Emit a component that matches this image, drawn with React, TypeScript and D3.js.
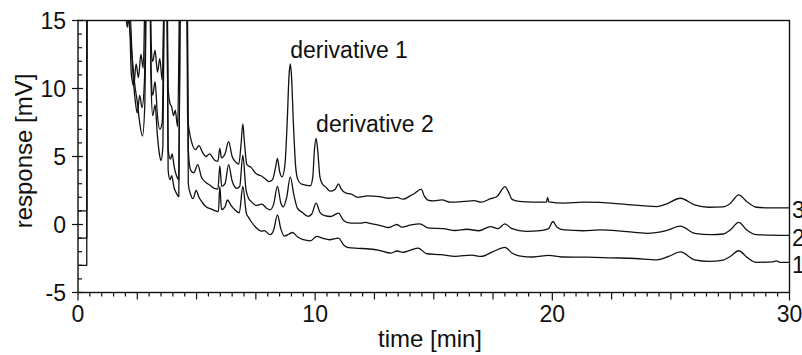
import React from "react";
import * as d3 from "d3";

// ---- data (time [min], response [mV]) ----
const xTickLabels = [0, 10, 20, 30];
const yTickLabels = [15, 10, 5, 0, -5];
const traceLabels = ["1", "2", "3"];
const annotationTexts = ["derivative 1", "derivative 2"];
const annotationTimes = [8.95, 10.04];
const annotationValues = [11.8, 6.33];

const trace3: [number, number][] = [
  [0, 1.0], [0.37, 1.0], [0.38, 30], [1.9, 30], [2.0, 16], [2.08, 14.5], [2.15, 16], [2.25, 11.0],
  [2.35, 10.2], [2.45, 11.8], [2.55, 10.8], [2.65, 12.5], [2.75, 11.5], [2.85, 20], [3.0, 25],
  [3.08, 13.5], [3.15, 12.0], [3.25, 12.8], [3.35, 11.2], [3.45, 12.2], [3.55, 10.6], [3.65, 20],
  [3.72, 25], [3.8, 10.0], [3.88, 8.9], [3.95, 8.65], [4.03, 8.0], [4.1, 8.4], [4.2, 7.2], [4.3, 20],
  [4.5, 30], [4.58, 20], [4.62, 8.0], [4.7, 6.8], [4.8, 6.0], [4.95, 5.5], [5.1, 5.8], [5.25, 5.3],
  [5.4, 5.0], [5.55, 5.2], [5.75, 4.75], [5.9, 4.65], [5.98, 5.6], [6.05, 4.9], [6.2, 5.2], [6.35, 6.1],
  [6.5, 5.0], [6.65, 4.6], [6.78, 4.45], [6.88, 6.0], [6.95, 7.4], [7.02, 6.0], [7.12, 4.4], [7.3, 4.2],
  [7.5, 3.75], [7.6, 3.65], [7.75, 3.55], [7.9, 3.35], [8.05, 3.15], [8.2, 3.3], [8.33, 4.2], [8.41, 4.86],
  [8.5, 3.9], [8.6, 3.5], [8.72, 4.3], [8.82, 7.5], [8.9, 11.0], [8.95, 11.8], [9.0, 11.0], [9.08, 7.5],
  [9.18, 4.2], [9.27, 3.3], [9.4, 3.0], [9.6, 2.9], [9.8, 2.85], [9.9, 3.5], [9.97, 5.5], [10.04, 6.33],
  [10.11, 5.4], [10.2, 3.5], [10.3, 3.0], [10.45, 2.75], [10.63, 2.45], [10.85, 2.6], [10.98, 2.98],
  [11.1, 2.6], [11.3, 2.3], [11.5, 2.25], [11.8, 2.0], [12.2, 2.1], [12.7, 2.05], [13.1, 1.93],
  [13.45, 2.0], [13.7, 1.86], [14.0, 2.1], [14.2, 2.3], [14.47, 2.6], [14.6, 2.1], [14.75, 1.8],
  [15.0, 1.74], [15.35, 1.81], [15.7, 1.64], [16.3, 1.7], [16.7, 1.76], [17.0, 1.64], [17.4, 1.9],
  [17.6, 2.0], [17.7, 2.12], [17.85, 2.5], [18.0, 2.78], [18.15, 2.4], [18.3, 1.85], [18.6, 1.7],
  [19.2, 1.64], [19.75, 1.64], [19.8, 2.0], [19.85, 1.66], [20.5, 1.57], [21.3, 1.64], [22.0, 1.62],
  [23.0, 1.5], [24.4, 1.32], [24.8, 1.5], [25.4, 1.93], [26.0, 1.44], [26.6, 1.27], [27.2, 1.3],
  [27.5, 1.55], [27.86, 2.18], [28.2, 1.68], [28.6, 1.27], [29.2, 1.22], [30, 1.22],
];

const trace2: [number, number][] = [
  [0, -1.0], [0.37, -1.0], [0.38, 30], [1.9, 30], [2.05, 16], [2.12, 14.8], [2.18, 16], [2.3, 11.5],
  [2.42, 9.0], [2.5, 8.2], [2.6, 9.5], [2.7, 8.6], [2.8, 10.5], [2.88, 20], [3.0, 25], [3.08, 11.5],
  [3.15, 9.5], [3.25, 10.5], [3.35, 8.0], [3.45, 7.0], [3.55, 7.5], [3.65, 20], [3.72, 25], [3.8, 5.5],
  [3.9, 4.8], [3.97, 5.2], [4.05, 4.3], [4.15, 3.6], [4.25, 3.3], [4.32, 20], [4.5, 30], [4.6, 20],
  [4.65, 5.5], [4.75, 4.0], [4.88, 3.8], [5.05, 4.4], [5.2, 3.5], [5.35, 3.15], [5.55, 2.9], [5.75, 2.65],
  [5.9, 2.6], [5.98, 4.3], [6.06, 2.8], [6.2, 3.0], [6.35, 4.4], [6.5, 3.2], [6.7, 2.65], [6.82, 2.8],
  [6.95, 5.1], [7.08, 2.6], [7.2, 1.9], [7.3, 1.7], [7.5, 1.4], [7.75, 1.5], [7.95, 1.2], [8.1, 1.08],
  [8.25, 1.5], [8.41, 2.8], [8.55, 1.6], [8.65, 1.3], [8.8, 2.0], [8.95, 3.5], [9.1, 2.2], [9.25, 1.2],
  [9.45, 0.9], [9.7, 0.6], [9.85, 0.75], [10.04, 1.57], [10.2, 0.9], [10.4, 0.65], [10.65, 0.59],
  [10.98, 0.83], [11.2, 0.3], [11.5, 0.1], [11.9, 0.1], [12.1, 0.15], [12.4, 0.05], [12.8, -0.1],
  [13.1, -0.22], [13.45, 0.0], [13.65, -0.2], [14.0, -0.05], [14.4, 0.05], [14.8, -0.27], [15.4, -0.3],
  [15.9, -0.44], [16.4, -0.35], [16.9, -0.46], [17.4, -0.15], [17.7, -0.3], [18.0, 0.05], [18.3, -0.31],
  [18.9, -0.5], [19.5, -0.45], [19.85, -0.3], [20.02, 0.22], [20.2, -0.2], [20.5, -0.4], [21.3, -0.46],
  [22.0, -0.4], [23.0, -0.5], [24.0, -0.65], [24.8, -0.45], [25.4, -0.12], [26.0, -0.65], [26.7, -0.75],
  [27.2, -0.7], [27.5, -0.4], [27.86, 0.15], [28.2, -0.4], [28.6, -0.75], [30, -0.8],
];

const trace1: [number, number][] = [
  [0, -3.0], [0.37, -3.0], [0.38, 30], [1.9, 30], [2.1, 16], [2.2, 14.0], [2.3, 12], [2.4, 10.2],
  [2.5, 9.0], [2.6, 7.5], [2.72, 6.5], [2.82, 9.0], [2.9, 20], [3.0, 25], [3.08, 10.5], [3.15, 8.0],
  [3.25, 8.8], [3.35, 6.5], [3.45, 5.0], [3.5, 4.7], [3.58, 5.8], [3.65, 20], [3.72, 25], [3.8, 4.0],
  [3.88, 3.3], [3.95, 3.6], [4.05, 2.7], [4.15, 2.3], [4.25, 2.05], [4.32, 20], [4.5, 30], [4.6, 20],
  [4.65, 3.0], [4.75, 2.2], [4.85, 1.9], [4.98, 2.5], [5.1, 2.0], [5.25, 1.6], [5.4, 1.3], [5.6, 1.15],
  [5.8, 1.0], [5.92, 0.95], [5.98, 2.8], [6.05, 1.1], [6.2, 1.3], [6.3, 1.8], [6.45, 1.4], [6.6, 1.1],
  [6.8, 0.85], [6.95, 2.8], [7.1, 0.8], [7.2, 0.5], [7.3, 0.22], [7.55, -0.3], [7.75, -0.5], [7.85, -0.45],
  [8.1, -0.75], [8.25, -0.4], [8.41, 0.71], [8.55, -0.3], [8.7, -0.85], [8.9, -0.7], [9.05, -0.59],
  [9.25, -0.9], [9.5, -1.12], [9.8, -1.2], [10.07, -0.88], [10.3, -1.0], [10.6, -1.12], [10.98, -1.0],
  [11.2, -1.5], [11.4, -1.7], [11.8, -1.75], [12.3, -1.8], [12.7, -1.9], [13.2, -2.1], [13.45, -1.95],
  [13.7, -2.05], [14.0, -1.9], [14.35, -1.73], [14.7, -2.15], [15.3, -2.22], [15.9, -2.34], [16.6, -2.25],
  [17.0, -2.35], [17.5, -2.0], [18.0, -1.68], [18.3, -2.1], [18.6, -2.3], [19.2, -2.39], [19.85, -2.27],
  [20.4, -2.39], [21.5, -2.4], [22.5, -2.45], [23.5, -2.5], [24.4, -2.6], [24.9, -2.35], [25.4, -2.02],
  [26.0, -2.6], [26.6, -2.71], [27.2, -2.62], [27.5, -2.35], [27.86, -1.93], [28.2, -2.4], [28.6, -2.78],
  [29.3, -2.75], [29.45, -2.68], [29.6, -2.78], [30, -2.78],
];

const traces = [trace1, trace2, trace3];

export default function App() {
  const W = 802, H = 355;
  const left = 78, right = 789.5, top = 20.5, bottom = 292.5;
  const x = d3.scaleLinear().domain([0, 30]).range([left, right]);
  const y = d3.scaleLinear().domain([-5, 15]).range([bottom, top]);
  const line = d3.line<[number, number]>().x(d => x(d[0])).y(d => y(d[1])).curve(d3.curveMonotoneX);
  const font = "'Liberation Sans', Arial, sans-serif";
  const ink = "#111";

  const xMinor = d3.range(0, 30.001, 0.5);
  const yMinor = d3.range(-5, 15.001, 1);

  return (
    <svg width={W} height={H} style={{ position: "absolute", left: 0, top: 0, background: "#fff" }}>
      <defs>
        <clipPath id="plot">
          <rect x={left} y={top} width={right - left} height={bottom - top} />
        </clipPath>
      </defs>
      <rect x={0} y={0} width={W} height={H} fill="#fff" />
      <g clipPath="url(#plot)">
        {traces.map((tr, i) => (
          <path key={i} d={line(tr) || ""} fill="none" stroke={ink} strokeWidth={1.3} strokeLinejoin="round" />
        ))}
      </g>
      {/* frame */}
      <rect x={left} y={top} width={right - left} height={bottom - top} fill="none" stroke={ink} strokeWidth={1.4} />
      {/* x ticks */}
      {xMinor.map(t => {
        const major = Math.abs(t % 10) < 1e-6;
        const med = Math.abs(t % 2.5) < 1e-6;
        const len = major ? 8 : med ? 7 : 4;
        return <line key={"xt" + t} x1={x(t)} x2={x(t)} y1={bottom} y2={bottom + len} stroke={ink} strokeWidth={1.2} />;
      })}
      {/* y ticks */}
      {yMinor.map(v => {
        const major = Math.abs(v % 5) < 1e-6;
        return major ? (
          <line key={"yt" + v} x1={left - 6} x2={left + 5} y1={y(v)} y2={y(v)} stroke={ink} strokeWidth={1.2} />
        ) : (
          <line key={"yt" + v} x1={left} x2={left + 4} y1={y(v)} y2={y(v)} stroke={ink} strokeWidth={1.2} />
        );
      })}
      {xTickLabels.map(t => (
        <text key={"xl" + t} x={x(t)} y={322} textAnchor="middle" fontFamily={font} fontSize={23} fill={ink}>{t}</text>
      ))}
      {yTickLabels.map(v => (
        <text key={"yl" + v} x={66} y={y(v)} dy="0.36em" textAnchor="end" fontFamily={font} fontSize={23} fill={ink}>{v}</text>
      ))}
      <text x={430} y={347} textAnchor="middle" fontFamily={font} fontSize={24} fill={ink}>time [min]</text>
      <text transform="translate(32,151) rotate(-90)" textAnchor="middle" fontFamily={font} fontSize={24} fill={ink}>response [mV]</text>
      {annotationTexts.map((s, i) => (
        <text key={s} x={x(annotationTimes[i])} y={y(annotationValues[i]) - 6} fontFamily={font} fontSize={23} fill={ink}>{s}</text>
      ))}
      {traces.map((tr, i) => (
        <text key={"tl" + i} x={792} y={y(tr[tr.length - 1][1]) + 2} dy="0.36em" fontFamily={font} fontSize={23} fill={ink}>{traceLabels[i]}</text>
      ))}
    </svg>
  );
}
